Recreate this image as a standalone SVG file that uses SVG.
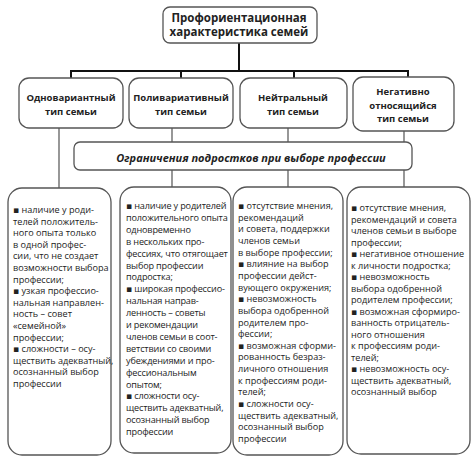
<svg xmlns="http://www.w3.org/2000/svg" width="474" height="460" viewBox="0 0 474 460">
<style>
.box{fill:#fff;stroke:#555;stroke-width:1.3}
.thick{stroke:#111;stroke-width:2;fill:none}
.thin{stroke:#444;stroke-width:1.1;fill:none}
.h{font-family:"Open Sans","DejaVu Sans",sans-serif;font-weight:bold;fill:#222;text-anchor:middle}
.t{font-family:"Open Sans","DejaVu Sans",sans-serif;font-size:9.1px;fill:#222}
.n{letter-spacing:-0.15px}
</style>
<rect width="474" height="460" fill="#fff"/>
<g id="connectors">
<path class="thick" d="M239 43V71M71 71H408M71 70V78M181 70V78M294 70V78M408 70V77"/>
<path class="thin" d="M59 128V188M172 128V142M172 170V187M288 128V142M288 170V187M404 131V142M404 170V187"/>
</g>
<g id="top">
<rect class="box" x="163" y="7" width="154" height="36" rx="7"/>
<text class="h" font-size="11.5" x="239" y="22">Профориентационная</text>
<text class="h" font-size="11.5" x="239" y="36">характеристика семей</text>
</g>
<g id="type1">
<rect class="box" x="19" y="78" width="104" height="50" rx="10"/>
<text class="h" font-size="9.5" x="71" y="101">Одновариантный</text>
<text class="h" font-size="9.5" x="71" y="115">тип семьи</text>
</g>
<g id="type2">
<rect class="box" x="129" y="78" width="104" height="50" rx="10"/>
<text class="h" font-size="9.5" x="181" y="101">Поливариативный</text>
<text class="h" font-size="9.5" x="181" y="115">тип семьи</text>
</g>
<g id="type3">
<rect class="box" x="240" y="78" width="107" height="50" rx="10"/>
<text class="h" font-size="9.5" x="293" y="101">Нейтральный</text>
<text class="h" font-size="9.5" x="293" y="115">тип семьи</text>
</g>
<g id="type4">
<rect class="box" x="353" y="77" width="101" height="54" rx="10"/>
<text class="h" font-size="9.5" x="403" y="95">Негативно</text>
<text class="h" font-size="9.5" x="403" y="108.5">относящийся</text>
<text class="h" font-size="9.5" x="403" y="122">тип семьи</text>
</g>
<g id="banner">
<rect class="box" x="74" y="142" width="338" height="28" rx="6"/>
<text class="h" font-size="11" font-style="italic" x="251" y="162">Ограничения подростков при выборе профессии</text>
</g>
<g id="col1">
<rect class="box" x="8" y="188" width="103" height="267" rx="14"/>
<text class="t" x="13" y="213">
<tspan x="13" dy="0">▪ наличие  у роди-</tspan>
<tspan x="13" dy="11.6">телей положитель-</tspan>
<tspan x="13" dy="11.6">ного опыта  только</tspan>
<tspan x="13" dy="11.6">в одной профес-</tspan>
<tspan x="13" dy="11.6">сии, что не создает</tspan>
<tspan x="13" dy="11.6">возможности выбора</tspan>
<tspan x="13" dy="11.6">профессии;</tspan>
<tspan x="13" dy="11.6">▪ узкая профессио-</tspan>
<tspan x="13" dy="11.6">нальная направлен-</tspan>
<tspan x="13" dy="11.6">ность  –  совет</tspan>
<tspan x="13" dy="11.6">«семейной»</tspan>
<tspan x="13" dy="11.6">профессии;</tspan>
<tspan x="13" dy="11.6">▪ сложности  –  осу-</tspan>
<tspan x="13" dy="11.6">ществить адекватный,</tspan>
<tspan x="13" dy="11.6">осознанный выбор</tspan>
<tspan x="13" dy="11.6">профессии</tspan>
</text>
</g>
<g id="col2">
<rect class="box" x="120" y="187" width="111" height="266" rx="14"/>
<text class="t n" x="126" y="209">
<tspan x="126" dy="0">▪ наличие у родителей</tspan>
<tspan x="126" dy="11.9">положительного опыта</tspan>
<tspan x="126" dy="11.9">одновременно</tspan>
<tspan x="126" dy="11.9">в нескольких про-</tspan>
<tspan x="126" dy="11.9">фессиях, что отягощает</tspan>
<tspan x="126" dy="11.9">выбор профессии</tspan>
<tspan x="126" dy="11.9">подростка;</tspan>
<tspan x="126" dy="11.9">▪ широкая профессио-</tspan>
<tspan x="126" dy="11.9">нальная направ-</tspan>
<tspan x="126" dy="11.9">ленность  –  советы</tspan>
<tspan x="126" dy="11.9">и рекомендации</tspan>
<tspan x="126" dy="11.9">членов семьи в соот-</tspan>
<tspan x="126" dy="11.9">ветствии со своими</tspan>
<tspan x="126" dy="11.9">убеждениями и про-</tspan>
<tspan x="126" dy="11.9">фессиональным</tspan>
<tspan x="126" dy="11.9">опытом;</tspan>
<tspan x="126" dy="11.9">▪ сложности  осу-</tspan>
<tspan x="126" dy="11.9">ществить адекватный,</tspan>
<tspan x="126" dy="11.9">осознанный выбор</tspan>
<tspan x="126" dy="11.9">профессии</tspan>
</text>
</g>
<g id="col3">
<rect class="box" x="233" y="187" width="110" height="268" rx="14"/>
<text class="t" x="238" y="209">
<tspan x="238" dy="0">▪ отсутствие мнения,</tspan>
<tspan x="238" dy="11.65">рекомендаций</tspan>
<tspan x="238" dy="11.65">и совета, поддержки</tspan>
<tspan x="238" dy="11.65">членов семьи</tspan>
<tspan x="238" dy="11.65">в выборе профессии;</tspan>
<tspan x="238" dy="11.65">▪ влияние на выбор</tspan>
<tspan x="238" dy="11.65">профессии  дейст-</tspan>
<tspan x="238" dy="11.65">вующего окружения;</tspan>
<tspan x="238" dy="11.65">▪ невозможность</tspan>
<tspan x="238" dy="11.65">выбора одобренной</tspan>
<tspan x="238" dy="11.65">родителем про-</tspan>
<tspan x="238" dy="11.65">фессии;</tspan>
<tspan x="238" dy="11.65">▪ возможная сформи-</tspan>
<tspan x="238" dy="11.65">рованность безраз-</tspan>
<tspan x="238" dy="11.65">личного отношения</tspan>
<tspan x="238" dy="11.65">к профессиям роди-</tspan>
<tspan x="238" dy="11.65">телей;</tspan>
<tspan x="238" dy="11.65">▪ сложности  осу-</tspan>
<tspan x="238" dy="11.65">ществить адекватный,</tspan>
<tspan x="238" dy="11.65">осознанный выбор</tspan>
<tspan x="238" dy="11.65">профессии</tspan>
</text>
</g>
<g id="col4">
<rect class="box" x="347" y="187" width="123" height="267" rx="14"/>
<text class="t" x="351" y="211">
<tspan x="351" dy="0">▪ отсутствие мнения,</tspan>
<tspan x="351" dy="11.5">рекомендаций и совета</tspan>
<tspan x="351" dy="11.5">членов семьи  в выборе</tspan>
<tspan x="351" dy="11.5">профессии;</tspan>
<tspan x="351" dy="11.5">▪ негативное отношение</tspan>
<tspan x="351" dy="11.5">к личности подростка;</tspan>
<tspan x="351" dy="11.5">▪ невозможность</tspan>
<tspan x="351" dy="11.5">выбора одобренной</tspan>
<tspan x="351" dy="11.5">родителем профессии;</tspan>
<tspan x="351" dy="11.5">▪ возможная сформиро-</tspan>
<tspan x="351" dy="11.5">ванность отрицатель-</tspan>
<tspan x="351" dy="11.5">ного отношения</tspan>
<tspan x="351" dy="11.5">к профессиям роди-</tspan>
<tspan x="351" dy="11.5">телей;</tspan>
<tspan x="351" dy="11.5">▪ невозможность осу-</tspan>
<tspan x="351" dy="11.5">ществить адекватный,</tspan>
<tspan x="351" dy="11.5">осознанный выбор</tspan>
</text>
</g>
</svg>
